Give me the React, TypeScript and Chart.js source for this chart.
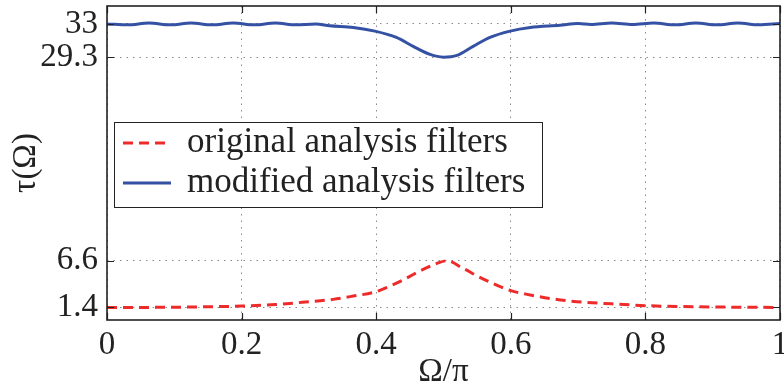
import { useEffect, useRef } from 'react';
import { Chart, registerables } from 'chart.js';

Chart.register(...registerables);

// Data
const modifiedX = [0, 0.031, 0.0625, 0.094, 0.125, 0.156, 0.1875, 0.219, 0.25, 0.281, 0.31, 0.331, 0.366, 0.398, 0.43, 0.455, 0.48, 0.5, 0.52, 0.544, 0.569, 0.599, 0.629, 0.673, 0.7, 0.719, 0.75, 0.781, 0.8125, 0.844, 0.875, 0.906, 0.9375, 0.969, 1.0];
const modifiedY = [33.0, 32.9, 33.1, 32.9, 33.1, 32.9, 33.1, 32.9, 33.1, 32.9, 33.0, 32.8, 32.6, 32.2, 31.5, 30.5, 29.6, 29.3, 29.5, 30.5, 31.5, 32.2, 32.6, 32.85, 33.05, 32.95, 33.1, 32.95, 33.1, 32.9, 33.1, 32.9, 33.1, 32.9, 33.05];
const originalX = [0, 0.1, 0.15, 0.2, 0.25, 0.29, 0.336, 0.366, 0.4, 0.416, 0.435, 0.46, 0.49, 0.505, 0.529, 0.554, 0.579, 0.6, 0.629, 0.663, 0.698, 0.75, 0.8, 0.85, 0.9, 1.0];
const originalY = [1.4, 1.42, 1.48, 1.55, 1.72, 1.97, 2.3, 2.67, 3.15, 3.64, 4.27, 5.27, 6.3, 6.6, 5.76, 4.76, 3.9, 3.27, 2.79, 2.34, 2.04, 1.8, 1.6, 1.5, 1.45, 1.4];
const xTickValues = [0, 0.2, 0.4, 0.6, 0.8, 1];
const yTickValues = [1.4, 6.6, 29.3, 33];
const seriesLabels = ['original analysis filters', 'modified analysis filters'];
const xTitle = 'Ω/π';
const yTitle = 'τ(Ω)';

const FONT = '"Liberation Serif", "Times New Roman", serif';
const RED = '#ee2b2b';
const BLUE = '#3451a3';

const framePlugin = {
  id: 'frameAndLegend',
  afterDraw(chart: any) {
    const { ctx, chartArea, scales } = chart;
    const { left, right, top, bottom } = chartArea;
    ctx.save();
    // inward tick marks
    ctx.strokeStyle = '#222';
    ctx.lineWidth = 1.2;
    const tl = 7;
    xTickValues.forEach((v) => {
      const px = Math.round(scales.x.getPixelForValue(v)) + 0.5;
      ctx.beginPath();
      ctx.moveTo(px, bottom); ctx.lineTo(px, bottom - tl);
      ctx.moveTo(px, top); ctx.lineTo(px, top + tl);
      ctx.stroke();
    });
    yTickValues.forEach((v) => {
      const py = Math.round(scales.y.getPixelForValue(v)) + 0.5;
      ctx.beginPath();
      ctx.moveTo(left, py); ctx.lineTo(left + tl, py);
      ctx.moveTo(right, py); ctx.lineTo(right - tl, py);
      ctx.stroke();
    });
    // frame
    ctx.lineWidth = 1.6;
    ctx.strokeStyle = '#222';
    ctx.strokeRect(left, top, right - left, bottom - top);

    // legend
    const bx = 114, by = 122, bw = 428, bh = 85;
    ctx.fillStyle = '#fff';
    ctx.fillRect(bx, by, bw, bh);
    ctx.lineWidth = 1;
    ctx.strokeStyle = '#222';
    ctx.strokeRect(bx + 0.5, by + 0.5, bw, bh);
    const rows = [143, 183];
    chart.data.datasets.forEach((ds: any, i: number) => {
      const yy = rows[i];
      ctx.beginPath();
      ctx.strokeStyle = ds.borderColor;
      ctx.lineWidth = ds.borderWidth;
      ctx.setLineDash(ds.borderDash || []);
      ctx.moveTo(123, yy);
      ctx.lineTo(171, yy);
      ctx.stroke();
      ctx.setLineDash([]);
      ctx.fillStyle = '#222';
      ctx.font = `35px ${FONT}`;
      ctx.textBaseline = 'middle';
      ctx.textAlign = 'left';
      ctx.fillText(ds.label, 187, yy);
    });
    ctx.restore();
  },
};

export default function App() {
  const ref = useRef<HTMLCanvasElement>(null);
  useEffect(() => {
    document.body.style.margin = '0';
    const canvas = ref.current!;
    const chart = new Chart(canvas, {
      type: 'line',
      data: {
        datasets: [
          {
            label: seriesLabels[0],
            data: originalX.map((x, i) => ({ x, y: originalY[i] })),
            borderColor: RED,
            borderWidth: 3,
            borderDash: [10, 6],
            pointRadius: 0,
            cubicInterpolationMode: 'monotone',
            fill: false,
          },
          {
            label: seriesLabels[1],
            data: modifiedX.map((x, i) => ({ x, y: modifiedY[i] })),
            borderColor: BLUE,
            borderWidth: 3,
            pointRadius: 0,
            cubicInterpolationMode: 'monotone',
            fill: false,
          },
        ],
      },
      options: {
        responsive: false,
        animation: false,
        layout: { padding: { left: 0, top: 6, right: 4, bottom: 0 } },
        plugins: { legend: { display: false }, tooltip: { enabled: false } },
        scales: {
          x: {
            type: 'linear',
            min: 0,
            max: 1,
            afterBuildTicks: (s: any) => { s.ticks = xTickValues.map((v) => ({ value: v })); },
            afterFit: (s: any) => { s.height = 67; s.paddingLeft = 0; s.paddingRight = 0; },
            ticks: {
              font: { family: FONT, size: 33 },
              color: '#222',
              padding: 6,
              maxRotation: 0,
              callback: (v: any) => String(v),
            },
            grid: { color: '#8a8a8a', lineWidth: 1, drawTicks: false },
            border: { display: false, dash: [1.5, 5] },
            title: { display: true, text: xTitle, font: { family: FONT, size: 33 }, color: '#222', padding: { top: 0, bottom: -5 } },
          },
          y: {
            type: 'linear',
            min: 0,
            max: 35,
            afterBuildTicks: (s: any) => { s.ticks = yTickValues.map((v) => ({ value: v })); },
            afterFit: (s: any) => { s.width = 107; s.paddingTop = 0; s.paddingBottom = 0; },
            ticks: {
              font: { family: FONT, size: 33 },
              color: '#222',
              padding: 9,
              callback: (v: any) => String(v),
            },
            grid: { color: '#8a8a8a', lineWidth: 1, drawTicks: false },
            border: { display: false, dash: [1.5, 5] },
            title: { display: true, text: yTitle, font: { family: FONT, size: 33 }, color: '#222', padding: { top: 7, bottom: 0 } },
          },
        },
      },
      plugins: [framePlugin],
    } as any);
    return () => chart.destroy();
  }, []);
  return (
    <div style={{ width: 784, height: 387 }}>
      <canvas ref={ref} width={784} height={387} style={{ width: 784, height: 387, display: 'block' }} />
    </div>
  );
}
